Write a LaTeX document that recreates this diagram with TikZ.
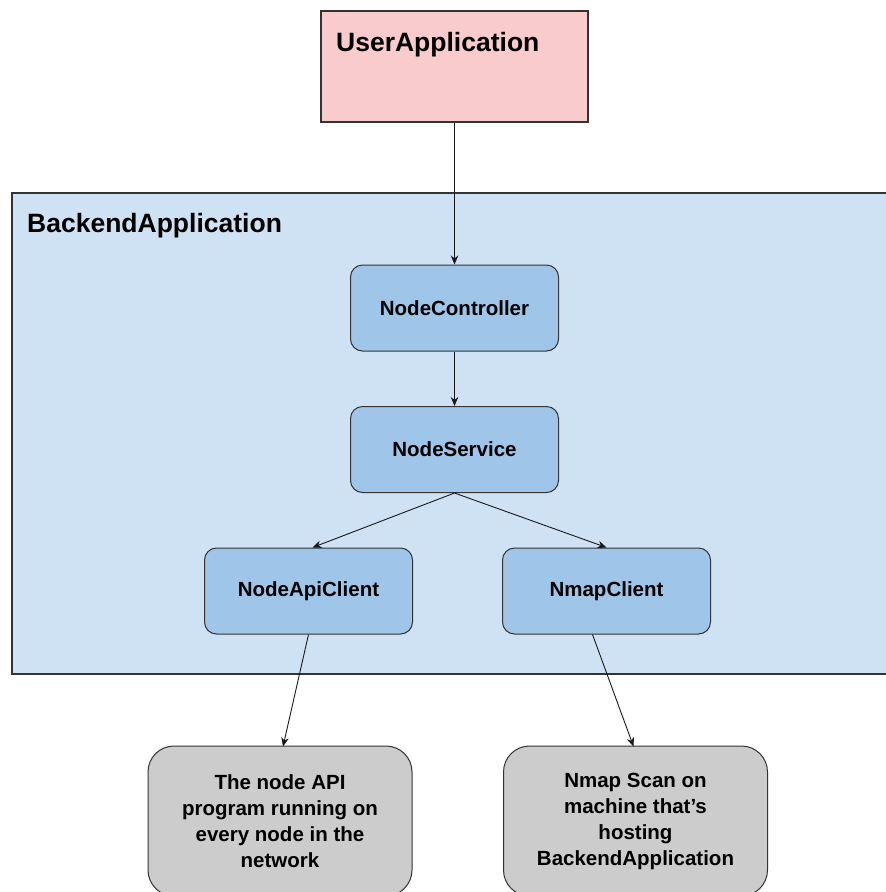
\documentclass[tikz,border=0pt]{standalone}
\usepackage{fontspec}
\setmainfont{Liberation Sans}
\usetikzlibrary{arrows.meta}
\definecolor{pinkfill}{HTML}{F9CBCC}
\definecolor{backfill}{HTML}{CFE2F3}
\definecolor{bluefill}{HTML}{9FC5E8}
\definecolor{grayfill}{HTML}{CCCCCC}
\definecolor{edge}{HTML}{333333}
\tikzset{
  container/.style={draw=edge, line width=1.2pt, rectangle, inner sep=0pt},
  bluebox/.style={draw=edge, line width=1pt, fill=bluefill, rounded corners=12pt,
    minimum width=208pt, minimum height=86pt, inner sep=0pt,
    font=\bfseries\fontsize{20.5}{24}\selectfont},
  graybox/.style={draw=edge, line width=1pt, fill=grayfill, rounded corners=26pt,
    minimum width=264pt, minimum height=150pt, inner sep=0pt, align=center,
    font=\bfseries\fontsize{20.5}{26}\selectfont},
  title/.style={anchor=west, inner sep=0pt, font=\bfseries\fontsize{26.5}{30}\selectfont},
  conn/.style={draw=black!90, line width=0.9pt, -{Stealth[length=9pt,width=7.5pt]}}
}
\begin{document}
\begin{tikzpicture}[x=1pt,y=-1pt]
\useasboundingbox (0,0) rectangle (886,892);
\clip (0,0) rectangle (886,892);
\fill[white] (0,0) rectangle (886,892);
% UserApplication
\node[container, fill=pinkfill, minimum width=267pt, minimum height=111pt] (user) at (454.5,66.5) {};
\node[title] (usertitle) at (336,44.5) {UserApplication};
% BackendApplication
\node[container, fill=backfill, minimum width=884pt, minimum height=481pt] (backend) at (454,433.5) {};
\node[title] (backendtitle) at (27,225.5) {BackendApplication};
% inner nodes
\node[bluebox] (nctrl) at (454.5,308) {NodeController};
\node[bluebox] (nsrv) at (454.5,449.5) {NodeService};
\node[bluebox] (napi) at (308.5,591) {NodeApiClient};
\node[bluebox] (nmap) at (606.5,591) {NmapClient};
% external
\node[graybox] (prog) at (280,821) {The node API\\program running on\\every node in the\\network};
\node[graybox] (scan) at (635.5,821) {Nmap Scan on\\machine that’s\\hosting\\BackendApplication};
% connectors
\draw[conn] (user.south) -- (nctrl.north);
\draw[conn] (nctrl.south) -- (nsrv.north);
\draw[conn] (nsrv.south) -- ([xshift=4pt]napi.north);
\draw[conn] (nsrv.south) -- (nmap.north);
\draw[conn] (napi.south) -- ([xshift=3pt,yshift=-1pt]prog.north);
\draw[conn] ([xshift=-14pt]nmap.south) -- ([xshift=-2pt,yshift=-1pt]scan.north);
\end{tikzpicture}
\end{document}
